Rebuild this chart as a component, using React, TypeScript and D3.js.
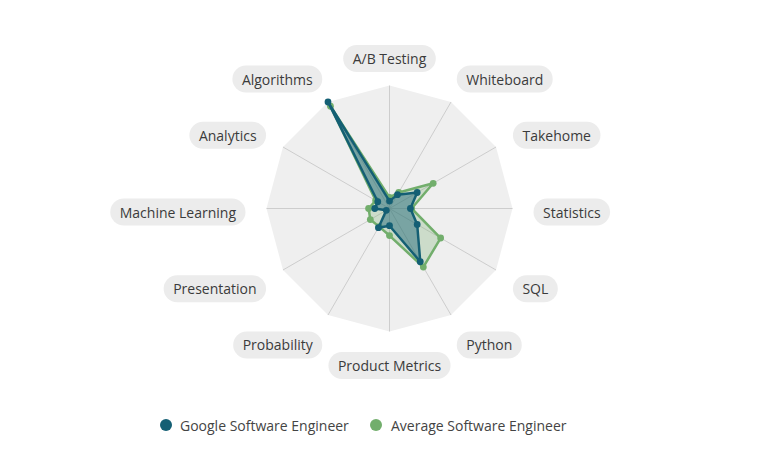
import React, { useMemo } from "react";
import * as d3 from "d3";

const axes = [
  "A/B Testing",
  "Whiteboard",
  "Takehome",
  "Statistics",
  "SQL",
  "Python",
  "Product Metrics",
  "Probability",
  "Presentation",
  "Machine Learning",
  "Analytics",
  "Algorithms",
];
const googleValues = [6, 13, 26, 17, 26, 50, 14, 18, 3, 12, 11, 100];
const averageValues = [9, 15, 41, 18, 48, 55, 22, 17, 18, 17, 13, 96];
const seriesNames = ["Google Software Engineer", "Average Software Engineer"];

const W = 768;
const H = 463;
const cx = 389.5;
const cy = 208.5;
const R = 123;
const FONT = "'Open Sans', sans-serif";
const colors = { google: "#145f74", average: "#72ae6c" };

function measure(text: string, size: number) {
  const ctx = document.createElement("canvas").getContext("2d");
  if (!ctx) return text.length * 7;
  ctx.font = `${size}px ${FONT}`;
  return ctx.measureText(text).width;
}

export default function App() {
  // angle per axis, 0 = top, clockwise
  const angle = d3
    .scalePoint<string>()
    .domain(axes)
    .range([0, 2 * Math.PI * (1 - 1 / axes.length)]);
  const r = d3.scaleLinear().domain([0, 100]).range([0, R]);

  const radial = d3
    .lineRadial<number>()
    .angle((_, i) => angle(axes[i]) ?? 0)
    .radius((v) => r(v))
    .curve(d3.curveLinearClosed);

  const outline = radial(axes.map(() => 100)) ?? "";

  const widths = useMemo(() => axes.map((a) => measure(a, 14)), []);

  const point = (v: number, i: number) => {
    const a = angle(axes[i]) ?? 0;
    return [Math.sin(a) * r(v), -Math.cos(a) * r(v)];
  };

  const series = [
    { name: seriesNames[1], values: averageValues, color: colors.average, fillOpacity: 0.28 },
    { name: seriesNames[0], values: googleValues, color: colors.google, fillOpacity: 0.45 },
  ];

  return (
    <svg
      width={W}
      height={H}
      style={{ position: "absolute", left: 0, top: 0, background: "#fff" }}
      fontFamily={FONT}
    >
      <g transform={`translate(${cx},${cy})`}>
        <path d={outline} fill="#efefef" />
        {axes.map((a, i) => {
          const [x, y] = point(100, i);
          return <line key={a} x1={0} y1={0} x2={x} y2={y} stroke="#c4c4c4" strokeWidth={0.8} />;
        })}
        {series.map((s) => (
          <g key={s.name}>
            <path
              d={radial(s.values) ?? ""}
              fill={s.color}
              fillOpacity={s.fillOpacity}
              stroke={s.color}
              strokeWidth={2.5}
              strokeLinejoin="round"
            />
            {s.values.map((v, i) => {
              const [x, y] = point(v, i);
              return <circle key={i} cx={x} cy={y} r={3.4} fill={s.color} />;
            })}
          </g>
        ))}
        {/* Axis labels in pills */}
        {axes.map((a, i) => {
          const ang = angle(a) ?? 0;
          const s = Math.sin(ang);
          const c = Math.cos(ang);
          const pad = 9.5;
          const w = widths[i] + pad * 2;
          const h = 27;
          let x = 153.5 * s;
          if (Math.abs(s) > 1e-6) x += Math.sign(s) * (w / 2 - pad);
          const y = 3.5 - 153.5 * c;
          return (
            <g key={a} transform={`translate(${x},${y})`}>
              <rect x={-w / 2} y={-h / 2} width={w} height={h} rx={h / 2} fill="#ececec" />
              <text textAnchor="middle" dominantBaseline="central" fontSize={14} fill="#3b3b3b">
                {a}
              </text>
            </g>
          );
        })}
      </g>
      {/* Legend */}
      <g transform="translate(0,425)">
        <circle cx={166} cy={0} r={6} fill={colors.google} />
        <text x={180} dominantBaseline="central" fontSize={14} fill="#444">
          {seriesNames[0]}
        </text>
        <circle cx={376} cy={0} r={6} fill={colors.average} />
        <text x={391} dominantBaseline="central" fontSize={14} fill="#444">
          {seriesNames[1]}
        </text>
      </g>
    </svg>
  );
}
